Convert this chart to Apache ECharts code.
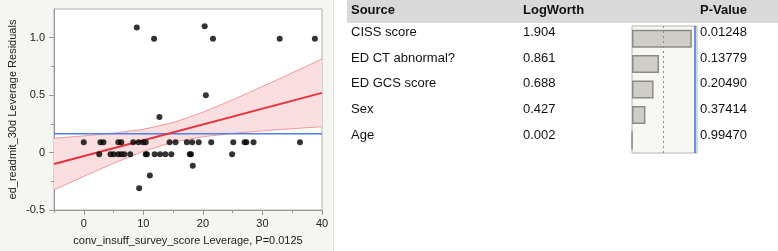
<!DOCTYPE html>
<html>
<head>
<meta charset="utf-8">
<script src="https://cdn.jsdelivr.net/npm/echarts@6/dist/echarts.min.js"></script>
<style>
  html, body { margin: 0; padding: 0; background: #fff; }
  #main { width: 778px; height: 251px; }
</style>
</head>
<body>
<div id="main"></div>
<script>
// leverage plot: residual points
var residualPoints = [
  [0, 0.09], [2.8, 0.09], [3.3, 0.09], [5.8, 0.09], [6.3, 0.09], [8.3, 0.09], [9.2, 0.09],
  [10.0, 0.09], [10.4, 0.09], [14.4, 0.09], [15.4, 0.09], [17.3, 0.09], [18.2, 0.09],
  [19.3, 0.09], [21.4, 0.09], [25.1, 0.09], [27.0, 0.09], [27.3, 0.09], [28.5, 0.09], [36.3, 0.09],
  [2.6, -0.015], [4.5, -0.015], [5.0, -0.015], [5.8, -0.015], [6.3, -0.015], [6.8, -0.015],
  [7.8, -0.015], [10.4, -0.015], [10.6, -0.015], [11.9, -0.015], [12.8, -0.015], [13.7, -0.015],
  [14.7, -0.015], [17.8, -0.015], [18.0, -0.015], [24.9, -0.015],
  [8.9, 1.09], [11.8, 0.99], [20.3, 1.1], [21.7, 0.99], [20.5, 0.5], [12.7, 0.31],
  [11.1, -0.2], [9.3, -0.31], [18.3, -0.115], [32.9, 0.99], [38.8, 0.99]
];
var fitX = [-5, 40];
var fitY = [-0.10, 0.52];
var meanResidual = 0.164;
var bandX = [-5, 0, 5, 10, 15, 20, 25, 30, 35, 40];
var bandUpper = [0.125, 0.145, 0.169, 0.203, 0.261, 0.351, 0.459, 0.575, 0.694, 0.815];
var bandLower = [-0.325, -0.207, -0.093, 0.011, 0.091, 0.138, 0.167, 0.189, 0.208, 0.225];
var xTicks = [0, 10, 20, 30, 40];
var xMinorTicks = [-5, 5, 15, 25, 35];
var yTicks = [-0.5, 0, 0.5, 1.0];
var yTickLabels = ['-0.5', '0', '0.5', '1.0'];
var yMinorTicks = [-0.25, 0.25, 0.75];

// effect summary table
var sources = ['CISS score', 'ED CT abnormal?', 'ED GCS score', 'Sex', 'Age'];
var logWorth = [1.904, 0.861, 0.688, 0.427, 0.002];
var pValues = [0.01248, 0.13779, 0.20490, 0.37414, 0.99470];

var FONT = '"Liberation Sans", Arial, sans-serif';

var chart = echarts.init(document.getElementById('main'));

var fitLine = fitX.map(function (x, i) { return [x, fitY[i]]; });
var lowerPts = bandX.map(function (x, i) { return [x, bandLower[i]]; });
var upperPts = bandX.map(function (x, i) { return [x, bandUpper[i]]; });
var bandData = bandX.map(function (x, i) { return [x, bandLower[i], bandUpper[i]]; });

// table texts + header band
var graphics = [
  { type: 'rect', z: -10, shape: { x: 0, y: 0, width: 333, height: 251 }, style: { fill: '#f5f5f1' } },
  { type: 'line', z: -9, shape: { x1: 333.5, y1: 0, x2: 333.5, y2: 251 }, style: { stroke: '#e2e2dd', lineWidth: 1 } },
  { type: 'rect', z: -10, shape: { x: 347, y: 0, width: 431, height: 23 }, style: { fill: '#d9d9d9' } }
];
var headers = [['Source', 351], ['LogWorth', 523], ['P-Value', 700]];
headers.forEach(function (h) {
  graphics.push({
    type: 'text', z: 100, x: h[1], y: 10,
    style: { text: h[0], fill: '#111', font: 'bold 13px ' + FONT, textVerticalAlign: 'middle' }
  });
});
sources.forEach(function (s, i) {
  var y = 32.6 + i * 25.6;
  graphics.push({ type: 'text', z: 100, x: 351, y: y,
    style: { text: s, fill: '#111', font: '13px ' + FONT, textVerticalAlign: 'middle' } });
  graphics.push({ type: 'text', z: 100, x: 523, y: y,
    style: { text: logWorth[i].toFixed(3), fill: '#111', font: '13px ' + FONT, textVerticalAlign: 'middle' } });
  graphics.push({ type: 'text', z: 100, x: 700, y: y,
    style: { text: pValues[i].toFixed(5), fill: '#111', font: '13px ' + FONT, textVerticalAlign: 'middle' } });
});

chart.setOption({
  backgroundColor: '#ffffff',
  animation: false,
  textStyle: { fontFamily: FONT },
  graphic: graphics,
  grid: [
    { left: 54, top: 9, width: 268, height: 203, show: true, backgroundColor: '#ffffff',
      borderColor: '#b0b0b0', borderWidth: 1 },
    { left: 632, top: 26, width: 65, height: 127, show: true, backgroundColor: '#f7f7f3',
      borderColor: '#b4b4ae', borderWidth: 1 }
  ],
  xAxis: [
    {
      gridIndex: 0, type: 'value', min: -5, max: 40,
      name: 'conv_insuff_survey_score Leverage, P=0.0125',
      nameLocation: 'middle', nameGap: 25,
      nameTextStyle: { fontSize: 11, color: '#222', fontFamily: FONT },
      axisLine: { onZero: false, lineStyle: { color: '#999' } },
      axisTick: { customValues: xTicks, length: 5, lineStyle: { color: '#999' } },
      axisLabel: { customValues: xTicks, margin: 8, fontSize: 11, color: '#222', fontFamily: FONT },
      splitLine: { show: false }
    },
    {
      gridIndex: 0, type: 'value', min: -5, max: 40, position: 'bottom',
      axisLine: { show: false, onZero: false },
      axisTick: { customValues: xMinorTicks, length: 3, lineStyle: { color: '#999' } },
      axisLabel: { show: false },
      splitLine: { show: false }
    },
    { gridIndex: 1, type: 'value', min: 0, max: 2.07, show: false, splitLine: { show: false } }
  ],
  yAxis: [
    {
      gridIndex: 0, type: 'value', min: -0.5, max: 1.25,
      name: 'ed_readmit_30d Leverage Residuals',
      nameLocation: 'middle', nameGap: 36,
      nameTextStyle: { fontSize: 11, color: '#222', fontFamily: FONT },
      axisLine: { show: true, onZero: false, lineStyle: { color: '#999' } },
      axisTick: { show: true, customValues: yTicks, length: 5, lineStyle: { color: '#999' } },
      axisLabel: {
        customValues: yTicks, margin: 9, fontSize: 11, color: '#222', fontFamily: FONT,
        formatter: function (v) { return yTickLabels[yTicks.indexOf(v)] || ''; }
      },
      splitLine: { show: false }
    },
    {
      gridIndex: 0, type: 'value', min: -0.5, max: 1.25, position: 'left',
      axisLine: { show: false, onZero: false },
      axisTick: { show: true, customValues: yMinorTicks, length: 3, lineStyle: { color: '#999' } },
      axisLabel: { show: false },
      splitLine: { show: false }
    },
    { gridIndex: 1, type: 'category', data: sources, inverse: true, show: false }
  ],
  series: [
    {
      // confidence band fill
      type: 'custom', xAxisIndex: 0, yAxisIndex: 0, data: bandData, z: 1, clip: true,
      encode: { x: 0, y: [1, 2] },
      renderItem: function (params, api) {
        if (params.dataIndex !== 0) return null;
        var pts = [];
        bandX.forEach(function (x, i) { pts.push(api.coord([x, bandUpper[i]])); });
        for (var i = bandX.length - 1; i >= 0; i--) pts.push(api.coord([bandX[i], bandLower[i]]));
        return {
          type: 'polygon', shape: { points: pts },
          style: { fill: '#fbdfe0' }
        };
      }
    },
    {
      type: 'line', xAxisIndex: 0, yAxisIndex: 0, data: lowerPts,
      symbol: 'none', z: 2, lineStyle: { color: '#f29a9a', width: 1 }
    },
    {
      type: 'line', xAxisIndex: 0, yAxisIndex: 0, data: upperPts,
      symbol: 'none', z: 2, lineStyle: { color: '#f29a9a', width: 1 }
    },
    {
      type: 'line', xAxisIndex: 0, yAxisIndex: 0, data: [[-5, meanResidual], [40, meanResidual]],
      symbol: 'none', z: 3, lineStyle: { color: '#4f7fe8', width: 1.5 }
    },
    {
      type: 'line', xAxisIndex: 0, yAxisIndex: 0, data: fitLine,
      symbol: 'none', z: 4, lineStyle: { color: '#e8323c', width: 2 }
    },
    {
      type: 'scatter', xAxisIndex: 0, yAxisIndex: 0, data: residualPoints,
      symbolSize: 6, z: 5, itemStyle: { color: '#000' }
    },
    {
      type: 'bar', xAxisIndex: 2, yAxisIndex: 2, data: logWorth, barWidth: 18,
      itemStyle: { color: '#cfcdc6', borderColor: '#8c8c86', borderWidth: 1.5 },
      markLine: {
        silent: true, symbol: 'none', label: { show: false },
        data: [
          { xAxis: 1, lineStyle: { type: [2, 3], color: '#8a8a8a', width: 1 } },
          { xAxis: 2, lineStyle: { type: 'solid', color: '#3f6fe0', width: 1.5 } }
        ]
      }
    }
  ]
});
</script>
</body>
</html>
